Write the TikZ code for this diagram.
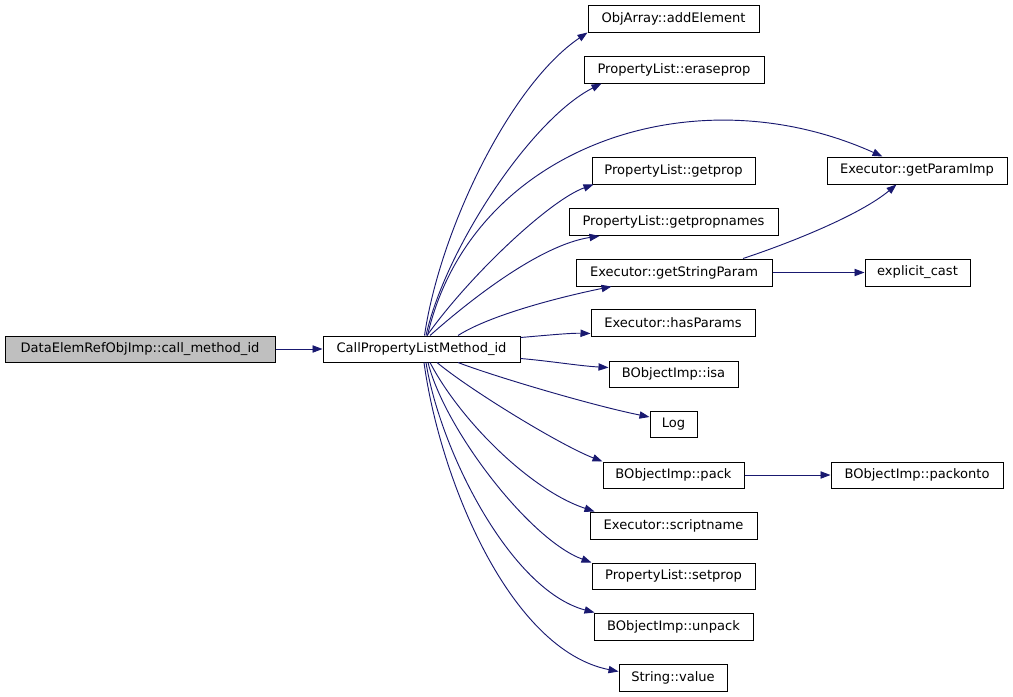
\documentclass[tikz,border=0pt]{standalone}
\usepackage{fontspec}
\setmainfont{DejaVu Sans}
\usetikzlibrary{arrows.meta,calc}
\definecolor{edgeblue}{HTML}{191970}
\definecolor{rootgray}{HTML}{BFBFBF}
\tikzset{
  fn/.style 2 args={draw=black, line width=0.75pt, rectangle, inner sep=0pt,
    minimum width=#1*0.75pt, minimum height=#2*0.75pt,
    font=\fontsize{9.8pt}{12pt}\selectfont},
  edge/.style={draw=edgeblue, line width=0.7pt,
    -{Triangle[length=7.5pt,width=5.5pt]}},
}
\begin{document}
\begin{tikzpicture}[x=0.75pt,y=-0.75pt]
\useasboundingbox (0,0) rectangle (1013,696);
% nodes
\node[fn={270}{26}, fill=rootgray] (de) at (140,349) {DataElemRefObjImp::call\_method\_id};
\node[fn={197}{26}] (cplm) at (421.5,349) {CallPropertyListMethod\_id};
\node[fn={171}{27}] (objarray) at (673.5,18.5) {ObjArray::addElement};
\node[fn={180}{27}] (eraseprop) at (674,69.5) {PropertyList::eraseprop};
\node[fn={163}{27}] (getprop) at (673.5,170.5) {PropertyList::getprop};
\node[fn={180}{27}] (getparamimp) at (917,170.5) {Executor::getParamImp};
\node[fn={209}{27}] (getpropnames) at (673.5,222) {PropertyList::getpropnames};
\node[fn={196}{27}] (getstringparam) at (674,272.5) {Executor::getStringParam};
\node[fn={105}{27}] (explicitcast) at (917.5,272.5) {explicit\_cast};
\node[fn={164}{27}] (hasparams) at (673,322.5) {Executor::hasParams};
\node[fn={129}{26}] (isa) at (673.5,374) {BObjectImp::isa};
\node[fn={47}{26}] (log) at (673.5,424.5) {Log};
\node[fn={141}{26}] (pack) at (673.5,475) {BObjectImp::pack};
\node[fn={172}{26}] (packonto) at (917,475) {BObjectImp::packonto};
\node[fn={167}{27}] (scriptname) at (673.5,525.5) {Executor::scriptname};
\node[fn={163}{26}] (setprop) at (673.5,576) {PropertyList::setprop};
\node[fn={159}{27}] (unpack) at (673.5,626.5) {BObjectImp::unpack};
\node[fn={108}{27}] (value) at (673,677.5) {String::value};
% edges
\draw[edge] (de.east) -- (cplm.west);
\draw[edge] ($(cplm.north)+(3,0)$) .. controls (440,230) and (510,85) .. (objarray.south west);
\draw[edge] ($(cplm.north)+(4.5,0)$) .. controls (445,250) and (530,120) .. ($(eraseprop.south west)+(18,0)$);
\draw[edge] ($(cplm.north)+(6,0)$) .. controls (470,150) and (690,70) .. ($(getparamimp.north west)+(56,0)$);
\draw[edge] ($(cplm.north)+(5.5,0)$) .. controls (470,275) and (550,200) .. ($(getprop.south west)+(2,0)$);
\draw[edge] ($(cplm.north)+(8.5,0)$) .. controls (470,300) and (540,245) .. ($(getpropnames.south west)+(31,0)$);
\draw[edge] ($(cplm.north)+(36.5,0)$) .. controls (490,315) and (560,297) .. ($(getstringparam.south west)+(36,0)$);
\draw[edge] ($(cplm.north east)+(0,2)$) .. controls (550,335) and (570,333) .. ($(hasparams.south west)+(0,-3)$);
\draw[edge] ($(cplm.south east)+(0,-4)$) .. controls (550,361) and (580,366) .. ($(isa.north west)+(0,7)$);
\draw[edge] ($(cplm.south)+(36.5,0)$) .. controls (490,375) and (590,405) .. ($(log.north west)+(0,6)$);
\draw[edge] ($(cplm.south)+(15.5,0)$) .. controls (470,390) and (560,445) .. (pack.north west);
\draw[edge] ($(cplm.south)+(8.5,0)$) .. controls (460,420) and (530,490) .. ($(scriptname.north west)+(5,0)$);
\draw[edge] ($(cplm.south)+(6.5,0)$) .. controls (445,430) and (530,540) .. (setprop.north west);
\draw[edge] ($(cplm.south)+(4.5,0)$) .. controls (440,450) and (510,590) .. ($(unpack.north west)+(1,0)$);
\draw[edge] ($(cplm.south)+(2.5,0)$) .. controls (440,480) and (510,650) .. ($(value.north west)+(0,8)$);
\draw[edge] ($(getstringparam.north)+(69,0)$) .. controls (790,243) and (860,215) .. ($(getparamimp.south west)+(70,0)$);
\draw[edge] (getstringparam.east) -- (explicitcast.west);
\draw[edge] (pack.east) -- (packonto.west);
\end{tikzpicture}
\end{document}
